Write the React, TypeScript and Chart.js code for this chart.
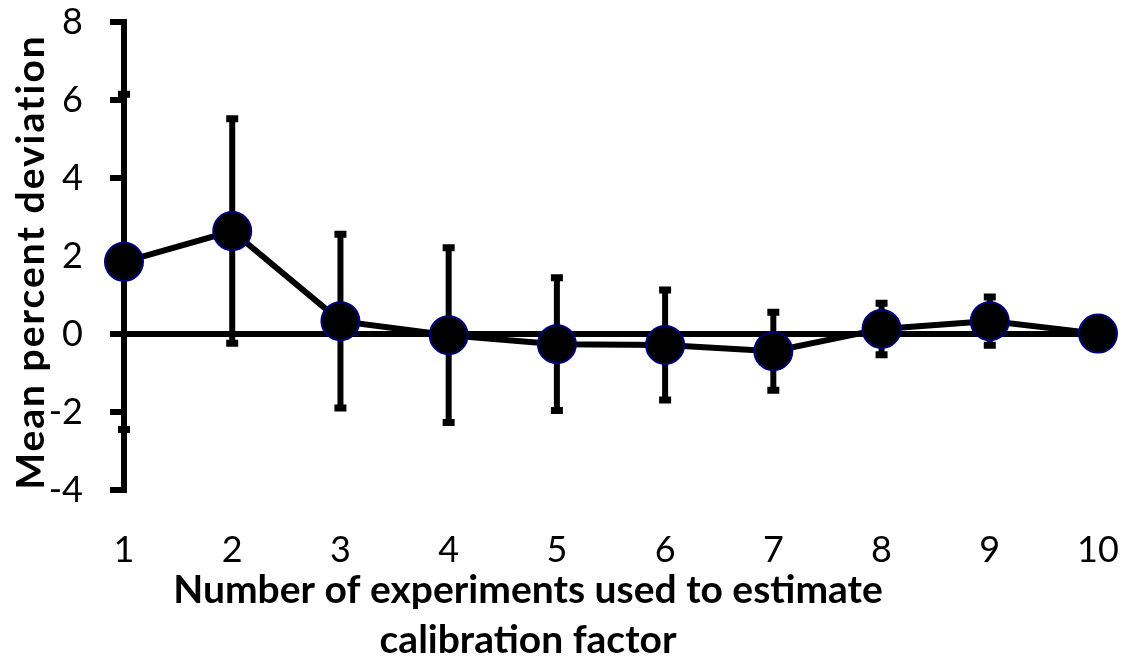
import React, { useEffect, useRef } from "react";
import { Chart, registerables } from "chart.js";

Chart.register(...registerables);

// Number of experiments used to estimate the calibration factor
const experiments = [1, 2, 3, 4, 5, 6, 7, 8, 9, 10];
// Mean percent deviation for each count
const meanDeviation = [1.85, 2.64, 0.33, -0.03, -0.26, -0.28, -0.44, 0.13, 0.33, 0.01];
// Standard deviation used for the symmetric error bars
const stdDeviation = [4.3, 2.88, 2.23, 2.24, 1.7, 1.41, 1.0, 0.66, 0.62, 0];

const yTicks = [-4, -2, 0, 2, 4, 6, 8];

const FONT = "Lato, 'Open Sans', sans-serif";

export default function App() {
  const canvasRef = useRef<HTMLCanvasElement | null>(null);

  useEffect(() => {
    const canvas = canvasRef.current;
    if (!canvas) return;

    // Horizontal axis line through zero plus the error bars, under the markers
    const underlay = {
      id: "underlay",
      beforeDatasetsDraw(chart: any) {
        const { ctx, chartArea, scales } = chart;
        const xs = scales.x;
        const ys = scales.y;
        ctx.save();
        ctx.strokeStyle = "#000";
        ctx.lineCap = "butt";
        ctx.lineWidth = 6;
        const y0 = ys.getPixelForValue(0);
        ctx.beginPath();
        ctx.moveTo(chartArea.left, y0);
        ctx.lineTo(chartArea.right, y0);
        ctx.stroke();

        experiments.forEach((e, i) => {
          const sd = stdDeviation[i];
          if (!sd) return;
          const px = xs.getPixelForValue(e);
          const top = ys.getPixelForValue(meanDeviation[i] + sd);
          const bot = ys.getPixelForValue(meanDeviation[i] - sd);
          ctx.lineWidth = 6;
          ctx.beginPath();
          ctx.moveTo(px, top);
          ctx.lineTo(px, bot);
          ctx.stroke();
          ctx.lineWidth = 7;
          ctx.beginPath();
          ctx.moveTo(px - 6, top);
          ctx.lineTo(px + 6, top);
          ctx.moveTo(px - 6, bot);
          ctx.lineTo(px + 6, bot);
          ctx.stroke();
        });
        ctx.restore();
      },
    };

    // Axis titles
    const titles = {
      id: "titles",
      afterDraw(chart: any) {
        const { ctx } = chart;
        ctx.save();
        ctx.fillStyle = "#000";
        ctx.font = `bold 39px ${FONT}`;
        ctx.textAlign = "center";
        ctx.textBaseline = "middle";
        ctx.fillText("Number of experiments used to estimate", 528, 590);
        ctx.fillText("calibration factor", 528, 640);
        ctx.translate(31, 262);
        ctx.rotate(-Math.PI / 2);
        (ctx as any).letterSpacing = "2px";
        ctx.fillText("Mean percent deviation", 0, 0);
        ctx.restore();
      },
    };

    const chart = new Chart(canvas, {
      type: "line",
      data: {
        datasets: [
          {
            data: experiments.map((e, i) => ({ x: e, y: meanDeviation[i] })),
            borderColor: "#000",
            borderWidth: 6,
            backgroundColor: "#000",
            pointRadius: 19,
            pointBackgroundColor: "#000",
            pointBorderColor: "#00007a",
            pointBorderWidth: 2,
            tension: 0,
            clip: false as any,
          },
        ],
      },
      options: {
        animation: false,
        responsive: true,
        maintainAspectRatio: false,
        layout: { padding: { top: 22, right: 35, left: 0, bottom: 0 } },
        plugins: {
          legend: { display: false },
          tooltip: { enabled: false },
        },
        scales: {
          x: {
            type: "linear",
            min: 1,
            max: 10,
            afterFit: (s: any) => {
              s.height = 172;
              s.paddingLeft = 0;
              s.paddingRight = 0;
            },
            afterBuildTicks: (s: any) => {
              s.ticks = experiments.map((v) => ({ value: v }));
            },
            grid: { display: false, drawTicks: false },
            border: { display: false },
            ticks: {
              color: "#000",
              font: { family: FONT, size: 36 },
              padding: 39,
              maxRotation: 0,
              autoSkip: false,
            },
          },
          y: {
            min: -4,
            max: 8,
            afterFit: (s: any) => {
              s.width = 124;
              s.paddingTop = 0;
              s.paddingBottom = 0;
            },
            afterBuildTicks: (s: any) => {
              s.ticks = yTicks.map((v) => ({ value: v }));
            },
            grid: {
              drawOnChartArea: false,
              drawTicks: true,
              tickLength: 14,
              lineWidth: 6,
              color: "#000",
            },
            border: { display: true, color: "#000", width: 6 },
            ticks: {
              color: "#000",
              font: { family: FONT, size: 36 },
              padding: 27,
            },
          },
        },
      },
      plugins: [underlay, titles],
    });

    return () => chart.destroy();
  }, []);

  return (
    <div style={{ position: "absolute", left: 0, top: 0, width: 1133, height: 662, background: "#fff" }}>
      <canvas ref={canvasRef} />
    </div>
  );
}
